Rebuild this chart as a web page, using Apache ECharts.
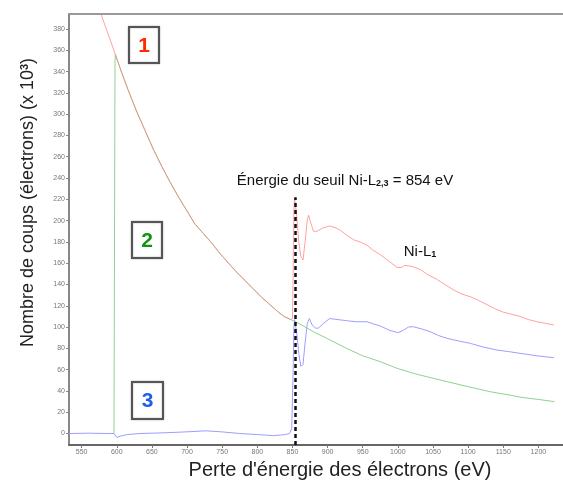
<!DOCTYPE html>
<html>
<head>
<meta charset="utf-8">
<script src="https://cdn.jsdelivr.net/npm/echarts@6/dist/echarts.min.js"></script>
<style>
  html, body { margin: 0; padding: 0; background: #fff; }
  #main { width: 563px; height: 480px; }
</style>
</head>
<body>
<div id="main"></div>
<script>
// tick labels
var xTicks = [550, 600, 650, 700, 750, 800, 850, 900, 950, 1000, 1050, 1100, 1150, 1200];
var yTicks = [0, 20, 40, 60, 80, 100, 120, 140, 160, 180, 200, 220, 240, 260, 280, 300, 320, 340, 360, 380];

// 1 - spectre brut (energie, coups x 10^3)
var spectreE = [570, 577, 598, 607, 616, 628, 640, 652, 664, 676, 688, 700, 711, 723, 735, 747, 759, 770, 782, 794, 806, 818, 830, 838, 847, 850, 851, 852, 853, 856, 859, 862, 865, 868, 871, 873, 876, 880, 885, 893, 903, 912, 918, 928, 937, 946, 956, 965, 975, 987, 999, 1005, 1010, 1020, 1032, 1043, 1055, 1067, 1079, 1091, 1103, 1115, 1127, 1139, 1150, 1162, 1174, 1186, 1198, 1210, 1222];
var spectreV = [420, 395, 356, 339, 323, 303, 285, 267, 251, 236, 222, 209, 197, 188, 179, 169, 160, 152, 144, 136, 128, 121, 114, 110, 107, 108, 150, 210, 221, 205, 180, 166, 163, 180, 200, 205, 198, 190, 190, 193, 195, 193, 191, 186, 182, 180, 177, 172, 168, 162, 156, 156, 158, 157, 154, 149, 145, 140, 135, 131, 128.5, 125, 121, 117, 114, 112, 110, 107, 105, 103.5, 102];

// 2 - fond (loi de puissance)
var fondE = [596, 597.5, 598, 607, 616, 628, 640, 652, 664, 676, 688, 700, 711, 723, 735, 747, 759, 770, 782, 794, 806, 818, 830, 838, 847, 860, 880, 900, 927, 950, 975, 999, 1025, 1060, 1100, 1131, 1160, 1175, 1200, 1223];
var fondV = [0, 350, 356, 339, 323, 303, 285, 267, 251, 236, 222, 209, 197, 188, 179, 169, 160, 152, 144, 136, 128, 121, 114, 110, 107.3, 103, 95.6, 89, 80, 73, 67.5, 61.2, 56, 50.3, 44, 39.3, 36, 34, 32, 29.9];

// 3 - signal apres soustraction du fond
var signalE = [532, 560, 590, 596, 600, 605, 615, 633, 660, 680, 704, 727, 750, 775, 800, 823, 840, 846, 849, 851, 852, 853, 856, 859, 862, 865, 868, 871, 874, 878, 883, 887, 895, 903, 915, 927, 940, 956, 965, 975, 988, 1000, 1008, 1015, 1022, 1035, 1046, 1058, 1070, 1086, 1103, 1120, 1141, 1157, 1174, 1198, 1222];
var signalV = [0, 0.3, 0, 0, -3.6, -2.5, -1, 0, 0.5, 1, 1.7, 2.5, 1.5, 0, -1, -2, -1, 0, 5, 60, 100, 107, 95, 75, 63, 65, 85, 103, 108, 102, 99, 99, 104, 108, 107, 106, 105, 105, 103, 101, 97, 94.7, 97, 100, 100.3, 98, 95.6, 92, 89.4, 87, 84.7, 81.5, 78.4, 77, 75.3, 73, 71.2];

var seuil = 854;

function pairs(xs, ys) {
  return xs.map(function (x, i) { return [x, ys[i]]; });
}

var myChart = echarts.init(document.getElementById('main'));

function boite(x, y, w, h, txt, col) {
  return {
    type: 'group', left: x, top: y,
    children: [
      { type: 'rect', shape: { x: 0, y: 0, width: w, height: h },
        style: { fill: '#fff', stroke: '#555', lineWidth: 2, shadowBlur: 2, shadowColor: 'rgba(0,0,0,0.3)' } },
      { type: 'text', x: w / 2, y: h / 2 + 1,
        style: { text: txt, fill: col, font: 'bold 21px "Liberation Sans", Arial, sans-serif', align: 'center', verticalAlign: 'middle' } }
    ]
  };
}

myChart.setOption({
  animation: false,
  grid: { left: 69, right: 0, top: 14, bottom: 35 },
  xAxis: [{
    type: 'value',
    min: 532,
    max: 1235,
    axisLine: { show: true, onZero: false, lineStyle: { color: '#666', width: 2 } },
    axisTick: { show: true, customValues: xTicks, length: 3, lineStyle: { color: '#777' } },
    axisLabel: { customValues: xTicks, fontSize: 7, color: '#777', margin: 4, fontFamily: 'Liberation Sans',
      formatter: function (v) { return String(v); } },
    splitLine: { show: false }
  }, {
    // bordure du haut
    type: 'value',
    position: 'top',
    min: 532,
    max: 1235,
    axisLine: { show: true, onZero: false, lineStyle: { color: '#999', width: 2 } },
    axisTick: { show: false },
    axisLabel: { show: false },
    splitLine: { show: false }
  }],
  yAxis: {
    type: 'value',
    min: -10.8,
    max: 394.1,
    axisLine: { show: true, onZero: false, lineStyle: { color: '#888', width: 2 } },
    axisTick: { show: true, customValues: yTicks, length: 3, lineStyle: { color: '#888' } },
    axisLabel: { customValues: yTicks, fontSize: 7, color: '#777', margin: 4, fontFamily: 'Liberation Sans' },
    splitLine: { show: false }
  },
  series: [
    {
      name: '2', type: 'line', data: pairs(fondE, fondV),
      showSymbol: false, symbol: 'none', clip: true,
      lineStyle: { color: '#8fd08f', width: 1 }
    },
    {
      name: '3', type: 'line', data: pairs(signalE, signalV),
      showSymbol: false, symbol: 'none', clip: true,
      lineStyle: { color: '#9d9dff', width: 1 }
    },
    {
      name: '1', type: 'line', data: pairs(spectreE, spectreV),
      showSymbol: false, symbol: 'none', clip: true,
      lineStyle: { color: '#ff8080', width: 1, opacity: 0.75 },
      markLine: {
        silent: true, symbol: 'none', label: { show: false },
        lineStyle: { color: '#111', width: 2.5, type: [4, 3], opacity: 1 },
        data: [[{ coord: [seuil, -10.8] }, { coord: [seuil, 222] }]]
      }
    }
  ],
  graphic: [
    { type: 'text', x: 28, y: 202.5, rotation: Math.PI / 2,
      style: { text: 'Nombre de coups (électrons) (x 10{s|3})', fill: '#222',
        font: '18px "Liberation Sans", Arial, sans-serif', align: 'center', verticalAlign: 'middle',
        rich: { s: { fontSize: 11, fontWeight: 'bold', verticalAlign: 'top', fill: '#222' } } } },
    { type: 'text', x: 340, y: 470,
      style: { text: "Perte d'énergie des électrons (eV)", fill: '#222',
        font: '20px "Liberation Sans", Arial, sans-serif', align: 'center', verticalAlign: 'middle' } },
    { type: 'text', x: 345, y: 181,
      style: { text: 'Énergie du seuil Ni-L{b|2,3} = 854 eV', fill: '#111',
        font: '15px "Liberation Sans", Arial, sans-serif', align: 'center', verticalAlign: 'middle',
        rich: { b: { fontSize: 9, fontWeight: 'bold', verticalAlign: 'bottom', fill: '#111' } } } },
    { type: 'text', x: 420, y: 252,
      style: { text: 'Ni-L{b|1}', fill: '#111',
        font: '15px "Liberation Sans", Arial, sans-serif', align: 'center', verticalAlign: 'middle',
        rich: { b: { fontSize: 9, fontWeight: 'bold', verticalAlign: 'bottom', fill: '#111' } } } },
    boite(128, 26, 30, 36, '1', '#ff2a00'),
    boite(131, 221, 30, 36, '2', '#129412'),
    boite(131, 381, 31, 37, '3', '#1d5ee6')
  ]
});
</script>
</body>
</html>
